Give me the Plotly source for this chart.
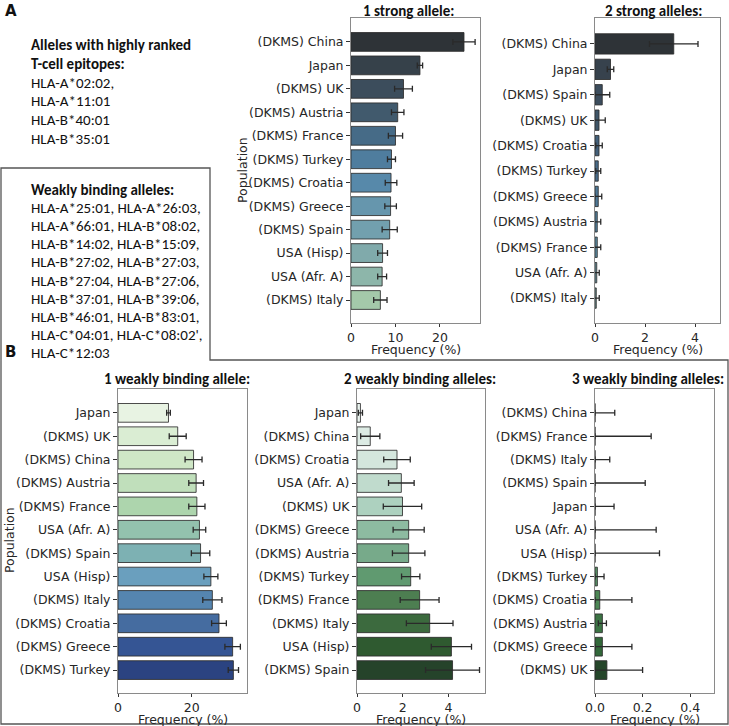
import plotly.graph_objects as go

W, H = 729, 726

# ---------------- data ----------------
a1_pop = ["(DKMS) China", "Japan", "(DKMS) UK", "(DKMS) Austria", "(DKMS) France",
          "(DKMS) Turkey", "(DKMS) Croatia", "(DKMS) Greece", "(DKMS) Spain",
          "USA (Hisp)", "USA (Afr. A)", "(DKMS) Italy"]
a1_freq = [25.4, 15.5, 11.8, 10.5, 10.0, 9.1, 9.0, 8.9, 8.7, 7.1, 7.0, 6.6]
a1_err = [2.5, 0.6, 2.0, 1.4, 1.6, 0.9, 1.3, 1.3, 1.7, 1.1, 1.0, 1.5]

a2_pop = ["(DKMS) China", "Japan", "(DKMS) Spain", "(DKMS) UK", "(DKMS) Croatia",
          "(DKMS) Turkey", "(DKMS) Greece", "(DKMS) Austria", "(DKMS) France",
          "USA (Afr. A)", "(DKMS) Italy"]
a2_freq = [3.15, 0.62, 0.29, 0.16, 0.16, 0.13, 0.13, 0.09, 0.09, 0.07, 0.05]
a2_err = [0.97, 0.13, 0.30, 0.25, 0.13, 0.10, 0.14, 0.14, 0.14, 0.10, 0.12]

b1_pop = ["Japan", "(DKMS) UK", "(DKMS) China", "(DKMS) Austria", "(DKMS) France",
          "USA (Afr. A)", "(DKMS) Spain", "USA (Hisp)", "(DKMS) Italy",
          "(DKMS) Croatia", "(DKMS) Greece", "(DKMS) Turkey"]
b1_freq = [13.7, 16.2, 20.5, 21.2, 21.4, 22.1, 22.4, 25.2, 25.6, 27.4, 31.1, 31.3]
b1_err = [0.5, 2.3, 2.3, 2.0, 2.2, 1.7, 2.5, 1.9, 2.6, 2.0, 2.1, 1.4]

b2_pop = ["Japan", "(DKMS) China", "(DKMS) Croatia", "USA (Afr. A)", "(DKMS) UK",
          "(DKMS) Greece", "(DKMS) Austria", "(DKMS) Turkey", "(DKMS) France",
          "(DKMS) Italy", "USA (Hisp)", "(DKMS) Spain"]
b2_freq = [0.15, 0.58, 1.75, 1.94, 1.99, 2.26, 2.26, 2.35, 2.74, 3.18, 4.13, 4.18]
b2_err = [0.09, 0.42, 0.58, 0.56, 0.84, 0.68, 0.71, 0.40, 0.85, 1.02, 0.88, 1.18]

b3_pop = ["(DKMS) China", "(DKMS) France", "(DKMS) Italy", "(DKMS) Spain", "Japan",
          "USA (Afr. A)", "USA (Hisp)", "(DKMS) Turkey", "(DKMS) Croatia",
          "(DKMS) Austria", "(DKMS) Greece", "(DKMS) UK"]
b3_freq = [0.0, 0.0, 0.0, 0.0, 0.0, 0.0, 0.0, 0.010, 0.020, 0.031, 0.031, 0.050]
b3_ci_low = [0.0, 0.0, 0.0, 0.0, 0.0, 0.0, 0.0, 0.0, 0.0, 0.014, 0.0, 0.0]
b3_ci_high = [0.083, 0.236, 0.062, 0.211, 0.080, 0.257, 0.271, 0.038, 0.155, 0.048, 0.155, 0.200]

strong_alleles = ["HLA-A*02:02,", "HLA-A*11:01", "HLA-B*40:01", "HLA-B*35:01"]
weak_alleles = ["HLA-A*25:01, HLA-A*26:03,", "HLA-A*66:01, HLA-B*08:02,",
                "HLA-B*14:02, HLA-B*15:09,", "HLA-B*27:02, HLA-B*27:03,",
                "HLA-B*27:04, HLA-B*27:06,", "HLA-B*37:01, HLA-B*39:06,",
                "HLA-B*46:01, HLA-B*83:01,", "HLA-C*04:01, HLA-C*08:02',",
                "HLA-C*12:03"]

# ---------------- styles ----------------
pal_a = ["#2e3337", "#36414a", "#3c4d5c", "#415a6d", "#466b87", "#4f7d9e",
         "#5789aa", "#6696ad", "#72a0ae", "#80aaab", "#8db6aa", "#a4c9aa"]
pal_a2 = ["#2e3337", "#37424d", "#3c4d5d", "#3f5669", "#43607a", "#486b89",
          "#4e7896", "#5483a0", "#5d8fa7", "#6c9aa6", "#7aa4a5"]
pal_b1 = ["#e8f3e3", "#daedd3", "#cfe7c6", "#c0dfbb", "#add5ad", "#93c2ae",
          "#7db1b3", "#6a9fbe", "#5585b0", "#456ca0", "#355594", "#2b4381"]
pal_b2 = ["#eaf4ef", "#dcebe4", "#d4e6dd", "#c0dbcd", "#add1bf", "#8dbba1",
          "#77aa8a", "#609a70", "#4d7e51", "#3c6a3e", "#2f5a30", "#25432a"]
pal_b3 = ["#eaf4ef", "#dcebe4", "#d4e6dd", "#c0dbcd", "#add1bf", "#8dbba1",
          "#77aa8a", "#5a9468", "#4d8755", "#3c7444", "#32683a", "#25462a"]

TICKFONT = dict(family="DejaVu Sans", size=12.5, color="#262626")
TEXTFONT = "Carlito, Lato, sans-serif"


def px(x):
    return x / W


def py(y):
    return 1 - y / H


fig = go.Figure()

panels = [
    (a1_pop, a1_freq, a1_err, a1_err, pal_a, (351, 480), (18, 323), [0, 29], 10, None,
     "1 strong allele:", 408, 11, [11.98, -1.02]),
    (a2_pop, a2_freq, a2_err, a2_err, pal_a2, (595, 720), (18, 323), [0, 5], 2, None,
     "2 strong alleles:", 653, 11, [10.98, -1.02]),
    (b1_pop, b1_freq, b1_err, b1_err, pal_b1, (118, 247), (389, 693), [0, 35], 20, None,
     "1 weakly binding allele:", 177, 379, [11.98, -1.02]),
    (b2_pop, b2_freq, b2_err, b2_err, pal_b2, (357, 485), (389, 693), [0, 5.6], 2, None,
     "2 weakly binding alleles:", 420, 379, [11.98, -1.02]),
    (b3_pop, b3_freq,
     [h - v for h, v in zip(b3_ci_high, b3_freq)],
     [v - l for v, l in zip(b3_freq, b3_ci_low)],
     pal_b3, (595, 714), (389, 693), [0, 0.5], 0.2, ".1f",
     "3 weakly binding alleles:", 648, 379, [11.98, -1.02]),
]

annotations = []
for i, (pop, freq, ep, em, cols, xd, yd, xr, dt, fmt, title, tx, ty, yr) in enumerate(panels):
    n = i + 1
    xa = "x" if n == 1 else f"x{n}"
    ya = "y" if n == 1 else f"y{n}"
    fig.add_trace(go.Bar(
        x=freq, y=pop, orientation="h", width=0.8,
        marker=dict(color=cols[:len(pop)], line=dict(color="rgba(45,45,45,0.85)", width=1)),
        error_x=dict(type="data", symmetric=False, array=ep, arrayminus=em,
                     color="#2a2a2a", thickness=1.3, width=3),
        xaxis=xa, yaxis=ya, showlegend=False, hoverinfo="skip"))
    xkey = "xaxis" if n == 1 else f"xaxis{n}"
    ykey = "yaxis" if n == 1 else f"yaxis{n}"
    fig.layout[xkey] = dict(
        domain=[px(xd[0]), px(xd[1])], range=xr, dtick=dt, tick0=0, anchor=ya,
        automargin=False,
        showline=True, mirror=True, linecolor="#8a8a8a", linewidth=1,
        ticks="outside", ticklen=3, tickcolor="#333", tickwidth=1,
        showgrid=False, zeroline=False, tickfont=TICKFONT,
        tickformat=fmt if fmt else "")
    fig.layout[ykey] = dict(
        domain=[py(yd[1]), py(yd[0])], anchor=xa, type="category",
        categoryorder="array", categoryarray=pop, range=yr, automargin=False,
        showline=True, mirror=True, linecolor="#8a8a8a", linewidth=1,
        ticks="outside", ticklen=4, tickcolor="#333", tickwidth=1,
        showgrid=False, zeroline=False, tickfont=TICKFONT)
    annotations.append(dict(x=px(tx), y=py(ty), xref="paper", yref="paper",
                            text=f"<b>{title}</b>", showarrow=False, xanchor="center",
                            yanchor="middle",
                            font=dict(family=TEXTFONT, size=15, color="#111")))
    annotations.append(dict(x=px((xd[0] + xd[1]) / 2), y=py(yd[1] + 26.5), xref="paper",
                            yref="paper", text="Frequency (%)", showarrow=False,
                            xanchor="center", yanchor="middle",
                            font=dict(family="DejaVu Sans", size=12.5, color="#262626")))

for (x, y) in [(242, 170), (9, 540)]:
    annotations.append(dict(x=px(x), y=py(y), xref="paper", yref="paper", text="Population",
                            textangle=-90, showarrow=False, xanchor="center", yanchor="middle",
                            font=dict(family="DejaVu Sans", size=12.5, color="#262626")))

annotations.append(dict(x=px(3), y=py(11), xref="paper", yref="paper", text="<b>A</b>",
                        showarrow=False, xanchor="left", yanchor="middle",
                        font=dict(family="DejaVu Sans", size=15, color="#111")))
annotations.append(dict(x=px(3), y=py(352), xref="paper", yref="paper", text="<b>B</b>",
                        showarrow=False, xanchor="left", yanchor="middle",
                        font=dict(family="DejaVu Sans", size=15, color="#111")))

block1 = ["<b>Alleles with highly ranked</b>", "<b>T-cell epitopes:</b>"] + strong_alleles
for k, line in enumerate(block1):
    annotations.append(dict(x=px(29), y=py(45 + 18.8 * k), xref="paper", yref="paper",
                            text=line, showarrow=False, xanchor="left", yanchor="middle",
                            font=dict(family=TEXTFONT, size=15, color="#111")))
block2 = ["<b>Weakly binding alleles:</b>"] + weak_alleles
for k, line in enumerate(block2):
    annotations.append(dict(x=px(29), y=py(190 + 18.1 * k), xref="paper", yref="paper",
                            text=line, showarrow=False, xanchor="left", yanchor="middle",
                            font=dict(family=TEXTFONT, size=15, color="#111")))

path = (f"M {px(1)},{py(168)} L {px(210)},{py(168)} L {px(210)},{py(360)} "
        f"L {px(728)},{py(360)} L {px(728)},{py(724)} L {px(1)},{py(724)} Z")
fig.add_shape(type="path", path=path, xref="paper", yref="paper",
              line=dict(color="#555", width=1.3), fillcolor="rgba(0,0,0,0)")

fig.update_layout(width=W, height=H, margin=dict(l=0, r=0, t=0, b=0, autoexpand=False),
                  plot_bgcolor="white", paper_bgcolor="white",
                  annotations=annotations, bargap=0.2)

fig.write_html("out.html", config={"displayModeBar": False},
               post_script="document.body.style.margin='0';document.body.style.overflow='hidden';")
